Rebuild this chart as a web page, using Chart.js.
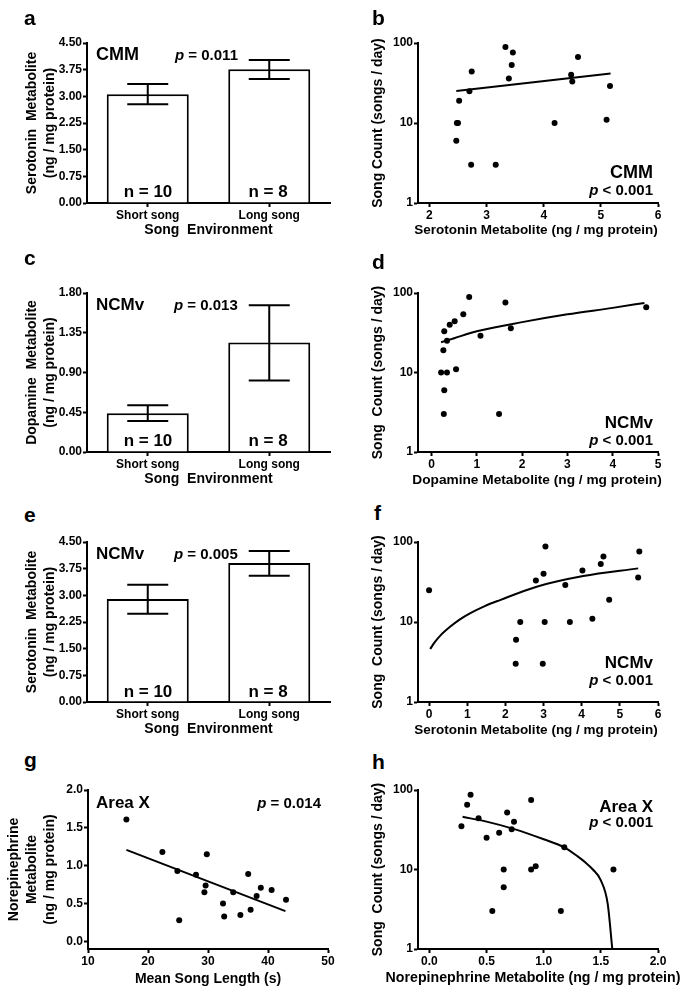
<!DOCTYPE html>
<html>
<head>
<meta charset="utf-8">
<script src="https://cdn.jsdelivr.net/npm/chart.js@4.4.1/dist/chart.umd.min.js"></script>
<style>
  html, body { margin: 0; padding: 0; background: #fff; }
  #fig { position: relative; width: 700px; height: 995px; overflow: hidden; }
  #fig canvas { position: absolute; }
  .t { position: absolute; font-family: "Liberation Sans", Arial, sans-serif; font-weight: bold;
       line-height: 1; white-space: nowrap; color: #000; }
  .letter { font-size: 21px; }
  .region { font-size: 17px; }
  .pval { font-size: 15px; }
  .n { font-size: 17px; width: 100px; text-align: center; }
  .xt { font-size: 13.5px; width: 340px; text-align: center; }
</style>
</head>
<body>
<div id="fig">
  <canvas id="chartA" width="350" height="220" style="left:0;top:28px"></canvas>
  <canvas id="chartB" width="350" height="220" style="left:350px;top:28px"></canvas>
  <canvas id="chartC" width="350" height="219" style="left:0;top:278px"></canvas>
  <canvas id="chartD" width="350" height="219" style="left:350px;top:278px"></canvas>
  <canvas id="chartE" width="350" height="220" style="left:0;top:527px"></canvas>
  <canvas id="chartF" width="350" height="220" style="left:350px;top:527px"></canvas>
  <canvas id="chartG" width="350" height="219" style="left:0;top:775px"></canvas>
  <canvas id="chartH" width="350" height="219" style="left:350px;top:775px"></canvas>

  <!-- panel letters -->
  <div class="t letter" style="left:24px;top:7px">a</div>
  <div class="t letter" style="left:372px;top:7px">b</div>
  <div class="t letter" style="left:24px;top:247px">c</div>
  <div class="t letter" style="left:372px;top:251px">d</div>
  <div class="t letter" style="left:24px;top:504px">e</div>
  <div class="t letter" style="left:374px;top:502px">f</div>
  <div class="t letter" style="left:24px;top:749px">g</div>
  <div class="t letter" style="left:372px;top:751px">h</div>

  <!-- a -->
  <div class="t region" style="left:96px;top:44.8px;font-size:18px">CMM</div>
  <div class="t pval" style="left:175px;top:47.3px"><i>p</i> = 0.011</div>
  <div class="t n" style="left:98px;top:182.6px">n = 10</div>
  <div class="t n" style="left:218px;top:182.6px">n = 8</div>
  <!-- b -->
  <div class="t region" style="right:47px;top:162.8px;font-size:18px">CMM</div>
  <div class="t pval" style="right:47px;top:182.3px"><i>p</i> &lt; 0.001</div>
  <div class="t xt" style="left:366px;top:222.6px">Serotonin Metabolite (ng / mg protein)</div>
  <!-- c -->
  <div class="t region" style="left:96px;top:295.6px">NCMv</div>
  <div class="t pval" style="left:174px;top:297.3px"><i>p</i> = 0.013</div>
  <div class="t n" style="left:98px;top:431.6px">n = 10</div>
  <div class="t n" style="left:218px;top:431.6px">n = 8</div>
  <!-- d -->
  <div class="t region" style="right:47px;top:413.6px">NCMv</div>
  <div class="t pval" style="right:47px;top:432.3px"><i>p</i> &lt; 0.001</div>
  <div class="t xt" style="left:367px;top:472.6px;font-size:13.7px">Dopamine Metabolite (ng / mg protein)</div>
  <!-- e -->
  <div class="t region" style="left:96px;top:544.6px">NCMv</div>
  <div class="t pval" style="left:174px;top:546.3px"><i>p</i> = 0.005</div>
  <div class="t n" style="left:98px;top:682.6px">n = 10</div>
  <div class="t n" style="left:218px;top:682.6px">n = 8</div>
  <!-- f -->
  <div class="t region" style="right:47px;top:653.6px">NCMv</div>
  <div class="t pval" style="right:47px;top:672.3px"><i>p</i> &lt; 0.001</div>
  <div class="t xt" style="left:366px;top:722.6px">Serotonin Metabolite (ng / mg protein)</div>
  <!-- g -->
  <div class="t region" style="left:96px;top:793.6px">Area X</div>
  <div class="t pval" style="right:379px;top:795.3px"><i>p</i> = 0.014</div>
  <!-- h -->
  <div class="t region" style="right:47px;top:797.6px">Area X</div>
  <div class="t pval" style="right:47px;top:814.3px"><i>p</i> &lt; 0.001</div>
  <div class="t xt" style="left:363px;top:970px;font-size:14.2px">Norepinephrine Metabolite (ng / mg protein)</div>
</div>

<script>
// ---- data ----
const barLabels = ['Short song', 'Long song'];

// a: CMM serotonin metabolite
const aMeans = [3.06, 3.76];
const aErrHigh = [3.35, 4.02];
const aErrLow = [2.78, 3.49];
// c: NCMv dopamine metabolite
const cMeans = [0.44, 1.24];
const cErrHigh = [0.53, 1.66];
const cErrLow = [0.35, 0.81];
// e: NCMv serotonin metabolite
const eMeans = [2.90, 3.91];
const eErrHigh = [3.30, 4.25];
const eErrLow = [2.48, 3.55];

const serotoninTicks = [0, 0.75, 1.5, 2.25, 3, 3.75, 4.5];
const dopamineTicks = [0, 0.45, 0.9, 1.35, 1.8];
const songCountTicks = [1, 10, 100];

// b: CMM song count vs serotonin metabolite
const bX = [3.33, 3.46, 3.44, 3.39, 2.74, 2.70, 2.52, 2.48, 2.50, 2.47, 2.73, 3.16, 4.19, 4.60, 4.48, 4.50, 5.16, 5.10];
const bY = [89, 76, 53, 36, 44, 25, 19, 10, 10, 6, 3, 3, 10, 67, 40, 33, 29, 11];
const bFitX = [2.47, 5.17];
const bFitY = [25.2, 41.6];
const bTicks = [2, 3, 4, 5, 6];

// d: NCMv song count vs dopamine metabolite
const dX = [0.83, 1.63, 0.70, 0.51, 0.40, 0.28, 0.34, 0.26, 0.21, 0.34, 0.54, 0.28, 0.27, 1.49, 1.08, 1.75, 4.74];
const dY = [89, 76, 54, 44, 40, 33, 25, 19, 10, 10, 11, 6, 3, 3, 29, 36, 66];
const dFitX = [0.21, 0.5, 1, 2, 3, 4, 4.7];
const dFitY = [24, 27, 33, 43, 54, 65, 75];
const dTicks = [0, 1, 2, 3, 4, 5];

// f: NCMv song count vs serotonin metabolite
const fX = [0, 2.80, 3.00, 3.05, 3.57, 4.02, 4.50, 4.57, 5.51, 5.48, 4.72, 2.39, 3.03, 3.69, 4.28, 2.28, 2.27, 2.98];
const fY = [25, 33, 40, 88, 29, 44, 53, 66, 76, 36, 19, 10, 10, 10, 11, 6, 3, 3];
const fFitX = [0.03, 0.15, 0.3, 0.55, 0.8, 1.07, 1.46, 1.86, 2.82, 4.04, 5.48];
const fFitY = [4.6, 5.6, 6.8, 8.7, 10.7, 12.8, 15.8, 18.8, 27.6, 37.5, 46.8];
const fTicks = [0, 1, 2, 3, 4, 5, 6];

// g: Area X norepinephrine metabolite vs mean song length
const gX = [16.4, 22.4, 24.9, 28.0, 29.8, 29.6, 29.4, 25.2, 32.5, 32.7, 34.2, 35.4, 36.7, 37.1, 38.8, 38.1, 40.6, 43.0];
const gY = [1.61, 1.18, 0.93, 0.88, 1.15, 0.74, 0.65, 0.28, 0.50, 0.33, 0.65, 0.35, 0.89, 0.42, 0.71, 0.60, 0.68, 0.55];
const gFitX = [16.4, 42.9];
const gFitY = [1.21, 0.40];
const gXTicks = [10, 20, 30, 40, 50];
const gYTicks = [0, 0.5, 1, 1.5, 2];

// h: Area X song count vs norepinephrine metabolite
const hX = [0.36, 0.33, 0.28, 0.43, 0.50, 0.61, 0.68, 0.74, 0.72, 0.89, 1.18, 0.65, 0.65, 0.55, 0.89, 0.93, 1.15, 1.61];
const hY = [87, 65, 35, 44, 25, 29, 52, 40, 32, 75, 19, 10, 6, 3, 10, 11, 3, 10];
const hFitX = [0.29, 0.5, 0.75, 1.0, 1.18, 1.3, 1.36, 1.43, 1.5, 1.56, 1.6];
const hFitY = [46, 40, 32, 24, 19, 14.5, 12.4, 10, 7.3, 3.7, 1];
const hTicks = [0, 0.5, 1, 1.5, 2];

// ---- chart helpers ----
const FONT = '"Liberation Sans", Arial, sans-serif';
Chart.defaults.font.family = FONT;
Chart.defaults.color = '#000';

const tickFont = { family: FONT, size: 12, weight: 'bold' };
const titleFont = { family: FONT, size: 14, weight: 'bold', lineHeight: 1.3 };

function fixedTicks(values) {
    return scale => { scale.ticks = values.map(v => ({ value: v })); };
}

function axisLines(extraGrid) {
    return {
        border: { display: true, color: '#000', width: 2 },
        grid: Object.assign({
            display: true, drawOnChartArea: false, drawTicks: true,
            tickLength: 4, tickWidth: 2, tickColor: '#000'
        }, extraGrid || {}),
    };
}

// Error bars drawn through the y scale, caps half as wide as the bar
const errorBars = {
    id: 'errorBars',
    afterDatasetsDraw(chart) {
        const ds = chart.data.datasets[0];
        if (!ds.errHigh) return;
        const meta = chart.getDatasetMeta(0);
        const y = chart.scales.y;
        const ctx = chart.ctx;
        ctx.save();
        ctx.strokeStyle = '#000';
        ctx.lineWidth = 2;
        meta.data.forEach((bar, i) => {
            const hi = y.getPixelForValue(ds.errHigh[i]);
            const lo = y.getPixelForValue(ds.errLow[i]);
            const half = bar.width / 4;
            ctx.beginPath();
            ctx.moveTo(bar.x, hi); ctx.lineTo(bar.x, lo);
            ctx.moveTo(bar.x - half, hi); ctx.lineTo(bar.x + half, hi);
            ctx.moveTo(bar.x - half, lo); ctx.lineTo(bar.x + half, lo);
            ctx.stroke();
        });
        ctx.restore();
    }
};

function createBarChart(canvasId, o) {
    const ctx = document.getElementById(canvasId).getContext('2d');
    return new Chart(ctx, {
        type: 'bar',
        data: {
            labels: barLabels,
            datasets: [{
                data: o.means,
                errHigh: o.errHigh,
                errLow: o.errLow,
                backgroundColor: '#fff',
                borderColor: '#000',
                borderWidth: 2,
                barPercentage: 0.675,
                categoryPercentage: 1,
            }],
        },
        options: {
            responsive: false,
            animation: false,
            devicePixelRatio: 1,
            layout: { padding: { left: 5, top: 15, right: 20, bottom: 0 } },
            plugins: { legend: { display: false }, tooltip: { enabled: false } },
            scales: {
                x: {
                    ...axisLines({ offset: false }),
                    afterFit: s => { s.height = 45; },
                    ticks: { font: tickFont, padding: 1, maxRotation: 0 },
                    title: { display: true, text: 'Song  Environment', font: titleFont, padding: { top: 0, bottom: 8.9 } },
                },
                y: {
                    ...axisLines(),
                    min: 0,
                    max: o.max,
                    afterBuildTicks: fixedTicks(o.ticks),
                    afterFit: s => { s.width = 82; },
                    ticks: { font: tickFont, padding: 1, callback: v => v.toFixed(2) },
                    title: { display: true, text: o.yTitle, font: titleFont, padding: { top: 17.9, bottom: 0 } },
                },
            },
        },
        plugins: [errorBars],
    });
}

function createScatterChart(canvasId, o) {
    const ctx = document.getElementById(canvasId).getContext('2d');
    const points = o.xs.map((x, i) => ({ x: x, y: o.ys[i] }));
    const fit = o.fitX.map((x, i) => ({ x: x, y: o.fitY[i] }));
    return new Chart(ctx, {
        type: 'scatter',
        data: {
            datasets: [{
                data: points,
                pointRadius: 3,
                pointBackgroundColor: '#000',
                backgroundColor: '#000',
                pointBorderWidth: 0,
            }, {
                type: 'line',
                data: fit,
                borderColor: '#000',
                borderWidth: 2,
                pointRadius: 0,
                fill: false,
                cubicInterpolationMode: 'monotone',
            }],
        },
        options: {
            responsive: false,
            animation: false,
            devicePixelRatio: 1,
            layout: { padding: { left: 5, top: 15, right: o.padRight, bottom: 0 } },
            plugins: { legend: { display: false }, tooltip: { enabled: false } },
            scales: {
                x: {
                    ...axisLines(),
                    type: 'linear',
                    min: o.xMin,
                    max: o.xMax,
                    afterBuildTicks: fixedTicks(o.xTicks),
                    afterFit: s => { s.height = 45; },
                    ticks: { font: tickFont, padding: 1, maxRotation: 0, callback: o.xFormat },
                    // long titles live in the page (canvas titles get squeezed to the axis width)
                    title: { display: !!o.xTitle, text: o.xTitle || '', font: titleFont, padding: { top: 0, bottom: o.xTitlePad } },
                },
                y: {
                    ...axisLines(),
                    type: o.yLog ? 'logarithmic' : 'linear',
                    min: o.yMin,
                    max: o.yMax,
                    afterBuildTicks: fixedTicks(o.yTicks),
                    afterFit: s => { s.width = o.yWidth; },
                    ticks: { font: tickFont, padding: 1, callback: o.yFormat },
                    title: { display: true, text: o.yTitle, font: titleFont, padding: { top: o.yTitlePad, bottom: 0 } },
                },
            },
        },
    });
}

const intFmt = v => String(v);
const oneDec = v => v.toFixed(1);

// ---- panels ----
createBarChart('chartA', {
    means: aMeans, errHigh: aErrHigh, errLow: aErrLow, max: 4.5, ticks: serotoninTicks,
    yTitle: ['Serotonin  Metabolite', '(ng / mg protein)'],
});
createBarChart('chartC', {
    means: cMeans, errHigh: cErrHigh, errLow: cErrLow, max: 1.8, ticks: dopamineTicks,
    yTitle: ['Dopamine  Metabolite', '(ng / mg protein)'],
});
createBarChart('chartE', {
    means: eMeans, errHigh: eErrHigh, errLow: eErrLow, max: 4.5, ticks: serotoninTicks,
    yTitle: ['Serotonin  Metabolite', '(ng / mg protein)'],
});

const songScatter = {
    padRight: 42, yLog: true, yMin: 1, yMax: 100, yTicks: songCountTicks, yFormat: intFmt,
    yWidth: 63, yTitlePad: 13.9, xTitlePad: 8.9,
};

createScatterChart('chartB', Object.assign({}, songScatter, {
    xs: bX, ys: bY, fitX: bFitX, fitY: bFitY,
    xMin: 1.8, xMax: 6, xTicks: bTicks, xFormat: intFmt,
    yTitle: 'Song Count (songs / day)',
}));
createScatterChart('chartD', Object.assign({}, songScatter, {
    xs: dX, ys: dY, fitX: dFitX, fitY: dFitY,
    xMin: -0.3, xMax: 5, xTicks: dTicks, xFormat: intFmt,
    yTitle: 'Song  Count (songs / day)',
}));
createScatterChart('chartF', Object.assign({}, songScatter, {
    xs: fX, ys: fY, fitX: fFitX, fitY: fFitY,
    xMin: -0.29, xMax: 6, xTicks: fTicks, xFormat: intFmt,
    yTitle: 'Song  Count (songs / day)',
}));
createScatterChart('chartH', Object.assign({}, songScatter, {
    xs: hX, ys: hY, fitX: hFitX, fitY: hFitY,
    xMin: -0.1, xMax: 2, xTicks: hTicks, xFormat: oneDec,
    yTitle: 'Song  Count (songs / day)',
}));
createScatterChart('chartG', {
    xs: gX, ys: gY, fitX: gFitX, fitY: gFitY,
    padRight: 22, xMin: 10, xMax: 50, xTicks: gXTicks, xFormat: intFmt, xTitlePad: 5.9,
    xTitle: 'Mean Song Length (s)',
    yLog: false, yMin: -0.1, yMax: 2, yTicks: gYTicks, yFormat: oneDec,
    yWidth: 83, yTitlePad: 0,
    yTitle: ['Norepinephrine', 'Metabolite', '(ng / mg protein)'],
});
</script>
</body>
</html>
